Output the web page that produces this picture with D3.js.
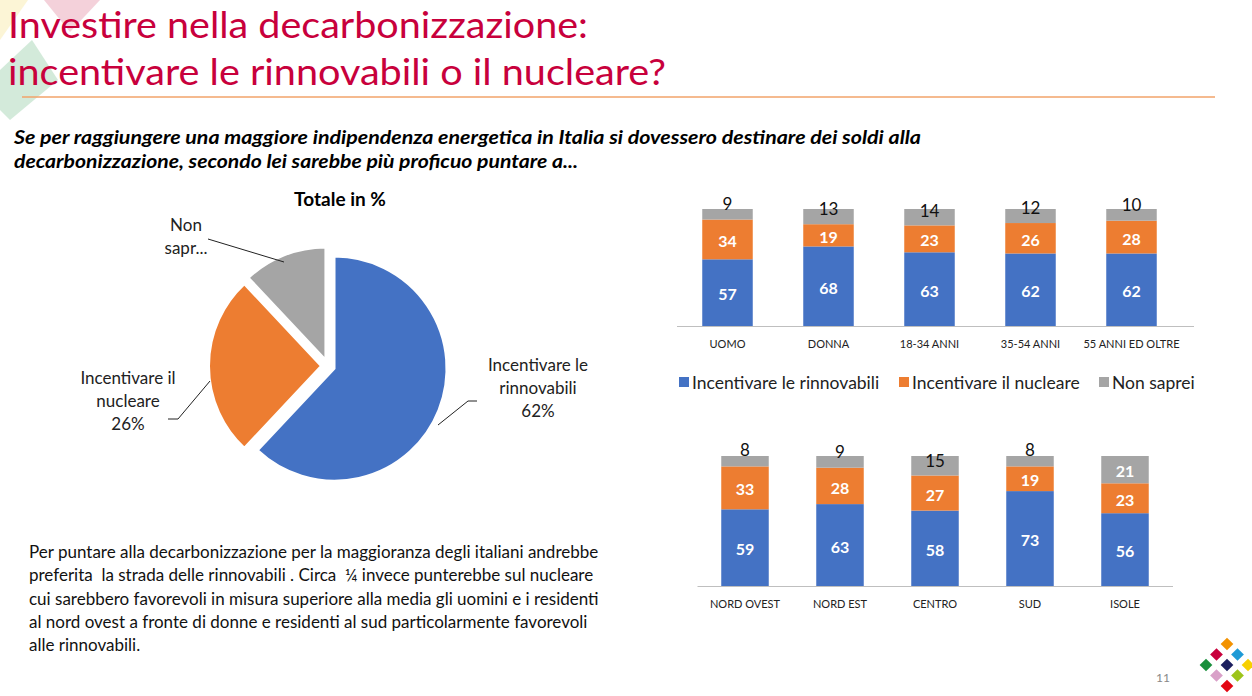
<!DOCTYPE html>
<html>
<head>
<meta charset="utf-8">
<script src="https://cdn.jsdelivr.net/npm/d3@7"></script>
<style>
  body { margin: 0; background: #fff; }
  svg { display: block; font-family: Lato, 'Open Sans', sans-serif; }
</style>
</head>
<body>
<svg id="chart" width="1252" height="696"></svg>
<script>
const pieLabels = ['Incentivare le rinnovabili', 'Incentivare il nucleare', 'Non saprei'];
const pieValues = [62, 26, 12];

const seriesKeys = ['rinnovabili', 'nucleare', 'nonSaprei'];
const seriesNames = ['Incentivare le rinnovabili', 'Incentivare il nucleare', 'Non saprei'];

const groupCats = ['UOMO', 'DONNA', '18-34 ANNI', '35-54 ANNI', '55 ANNI ED OLTRE'];
const groupRinn = [57, 68, 63, 62, 62];
const groupNucl = [34, 19, 23, 26, 28];
const groupNon = [9, 13, 14, 12, 10];

const areaCats = ['NORD OVEST', 'NORD EST', 'CENTRO', 'SUD', 'ISOLE'];
const areaRinn = [59, 63, 58, 73, 56];
const areaNucl = [33, 28, 27, 19, 23];
const areaNon = [8, 9, 15, 8, 21];

const colors = ['#4472c4', '#ed7d31', '#a5a5a5'];
const color = d3.scaleOrdinal().domain(seriesKeys).range(colors);

const svg = d3.select('#chart');

// background decorations
const deco = svg.append('g').attr('opacity', 0.22);
deco.append('polygon').attr('points', '0,0 28,0 0,40').attr('fill', '#f5d547');
deco.append('polygon').attr('points', '44,0 100,0 70,32').attr('fill', '#d0345a');
deco.append('polygon').attr('points', '0,70 32,40 58,80 10,120 0,110').attr('fill', '#3aa55a');

// title
const title = svg.append('g').attr('fill', '#c8003c')
  .style('font-size', '37px');
title.append('text').attr('x', 8).attr('y', 38)
  .attr('textLength', 580).attr('lengthAdjust', 'spacingAndGlyphs')
  .text('Investire nella decarbonizzazione:');
title.append('text').attr('x', 8).attr('y', 85)
  .attr('textLength', 658).attr('lengthAdjust', 'spacingAndGlyphs')
  .text('incentivare le rinnovabili o il nucleare?');

svg.append('line')
  .attr('x1', 22).attr('x2', 1215).attr('y1', 97).attr('y2', 97)
  .attr('stroke', '#f2a36a').attr('stroke-width', 1.5);

// question
const q = svg.append('g')
  .style('font-size', '19px').style('font-weight', 700).style('font-style', 'italic');
q.append('text').attr('x', 14).attr('y', 144)
  .attr('textLength', 907).attr('lengthAdjust', 'spacingAndGlyphs')
  .text('Se per raggiungere una maggiore indipendenza energetica in Italia si dovessero destinare dei soldi alla');
q.append('text').attr('x', 14).attr('y', 168)
  .attr('textLength', 564).attr('lengthAdjust', 'spacingAndGlyphs')
  .text('decarbonizzazione, secondo lei sarebbe più proficuo puntare a...');

// pie
svg.append('text').attr('x', 340).attr('y', 206)
  .attr('text-anchor', 'middle').style('font-size', '19px').style('font-weight', 700)
  .text('Totale in %');

const cx = 328, cy = 366, radius = 112, explode = 7;
const pie = d3.pie().sort(null).value(d => d);
const arc = d3.arc().innerRadius(0).outerRadius(radius);
const arcs = pie(pieValues);

const pieG = svg.append('g').attr('transform', `translate(${cx},${cy})`);
pieG.selectAll('path')
  .data(arcs)
  .enter()
  .append('path')
  .attr('d', arc)
  .attr('transform', d => {
    const mid = (d.startAngle + d.endAngle) / 2;
    return `translate(${Math.sin(mid) * explode},${-Math.cos(mid) * explode})`;
  })
  .attr('fill', (d, i) => colors[i])
  .attr('stroke', '#fff')
  .attr('stroke-width', 2);

// pie callouts
const lead = svg.append('g').attr('fill', 'none').attr('stroke', '#222').attr('stroke-width', 1);
lead.append('polyline').attr('points', '438,425 468,401 477,401');
lead.append('polyline').attr('points', '168,419 178,419 210,381');
lead.append('polyline').attr('points', '208,239 284,262');

const pieText = svg.append('g').style('font-size', '17px').attr('fill', '#222').attr('text-anchor', 'middle');
function multi(x, y, lines) {
  const t = pieText.append('text').attr('x', x).attr('y', y);
  lines.forEach((l, i) => t.append('tspan').attr('x', x).attr('dy', i === 0 ? 0 : 23).text(l));
}
multi(538, 371, ['Incentivare le', 'rinnovabili', `${pieValues[0]}%`]);
multi(128, 384, ['Incentivare il', 'nucleare', `${pieValues[1]}%`]);
multi(186, 231, ['Non', 'sapr...']);

// stacked bars
function stackedChart(cats, rinn, nucl, non, x0, x1, yBase, yTop, axisEnd, labelY) {
  const rows = cats.map((c, i) => ({ cat: c, rinnovabili: rinn[i], nucleare: nucl[i], nonSaprei: non[i] }));
  const series = d3.stack().keys(seriesKeys)(rows);

  const x = d3.scaleBand().domain(cats).range([x0, x1]).paddingInner(0.5).paddingOuter(0.25);
  const y = d3.scaleLinear().domain([0, 100]).range([yBase, yTop]);

  const g = svg.append('g');
  const layers = g.selectAll('g.layer')
    .data(series)
    .enter()
    .append('g')
    .attr('class', 'layer')
    .attr('fill', d => color(d.key));

  layers.selectAll('rect')
    .data(d => d)
    .enter()
    .append('rect')
    .attr('x', d => x(d.data.cat))
    .attr('y', d => y(d[1]))
    .attr('width', x.bandwidth())
    .attr('height', d => y(d[0]) - y(d[1]));

  // value labels
  series.forEach(s => {
    s.forEach(d => {
      const h = y(d[0]) - y(d[1]);
      const v = d[1] - d[0];
      const inside = s.key !== 'nonSaprei' || h > 22;
      const cyL = inside ? y(d[1]) + h / 2 + 2 : y(d[1]) + (h - 15) * 1.2;
      g.append('text')
        .attr('x', x(d.data.cat) + x.bandwidth() / 2)
        .attr('y', cyL)
        .attr('dy', '0.35em')
        .attr('text-anchor', 'middle')
        .style('font-size', inside ? '16px' : '17px')
        .style('font-weight', inside ? 700 : 400)
        .attr('fill', inside ? '#fff' : '#111')
        .text(v);
    });
  });

  g.append('line')
    .attr('x1', x0).attr('x2', axisEnd).attr('y1', yBase + 0.5).attr('y2', yBase + 0.5)
    .attr('stroke', '#bfbfbf').attr('stroke-width', 1.2);

  g.selectAll('text.cat')
    .data(cats)
    .enter()
    .append('text')
    .attr('class', 'cat')
    .attr('x', d => x(d) + x.bandwidth() / 2)
    .attr('y', labelY)
    .attr('text-anchor', 'middle')
    .style('font-size', '11px')
    .attr('fill', '#222')
    .text(d => d);
}

stackedChart(groupCats, groupRinn, groupNucl, groupNon, 677, 1182, 326, 209, 1194, 348);
stackedChart(areaCats, areaRinn, areaNucl, areaNon, 697.5, 1172.5, 586, 456, 1173, 608);

// legend
const legendX = [679, 899, 1099];
const legend = svg.append('g').style('font-size', '17.5px');
seriesNames.forEach((n, i) => {
  legend.append('rect').attr('x', legendX[i]).attr('y', 377).attr('width', 10).attr('height', 10)
    .attr('fill', colors[i]);
  legend.append('text').attr('x', legendX[i] + 13).attr('y', 389).attr('fill', '#222').text(n);
});

// comment paragraph
const para = [
  'Per puntare alla decarbonizzazione per la maggioranza degli italiani andrebbe',
  'preferita  la strada delle rinnovabili . Circa  ¼ invece punterebbe sul nucleare',
  'cui sarebbero favorevoli in misura superiore alla media gli uomini e i residenti',
  'al nord ovest a fronte di donne e residenti al sud particolarmente favorevoli',
  'alle rinnovabili.'
];
svg.append('g').style('font-size', '17px').attr('fill', '#111')
  .selectAll('text')
  .data(para)
  .enter()
  .append('text')
  .attr('x', 29)
  .attr('y', (d, i) => 558 + i * 23.3)
  .style('white-space', 'pre')
  .text(d => d);

// page number and logo
svg.append('text').attr('x', 1156).attr('y', 682).style('font-size', '12px').attr('fill', '#888').text('11');

const logo = svg.append('g').attr('transform', 'translate(1227,665)');
const diamonds = [
  [0, -2, '#f39200'], [-1, -1, '#c8003c'], [1, -1, '#1e9ad6'],
  [-2, 0, '#1a8f3c'], [0, 0, '#1b1f5e'], [2, 0, '#f7d000'],
  [-1, 1, '#d9a0c8'], [1, 1, '#9dc41a'], [0, 2, '#e30613']
];
logo.selectAll('rect')
  .data(diamonds)
  .enter()
  .append('rect')
  .attr('x', -4.5).attr('y', -4.5).attr('width', 9).attr('height', 9)
  .attr('transform', d => `translate(${d[0] * 10.5},${d[1] * 10.5}) rotate(45)`)
  .attr('fill', d => d[2]);
</script>
</body>
</html>
